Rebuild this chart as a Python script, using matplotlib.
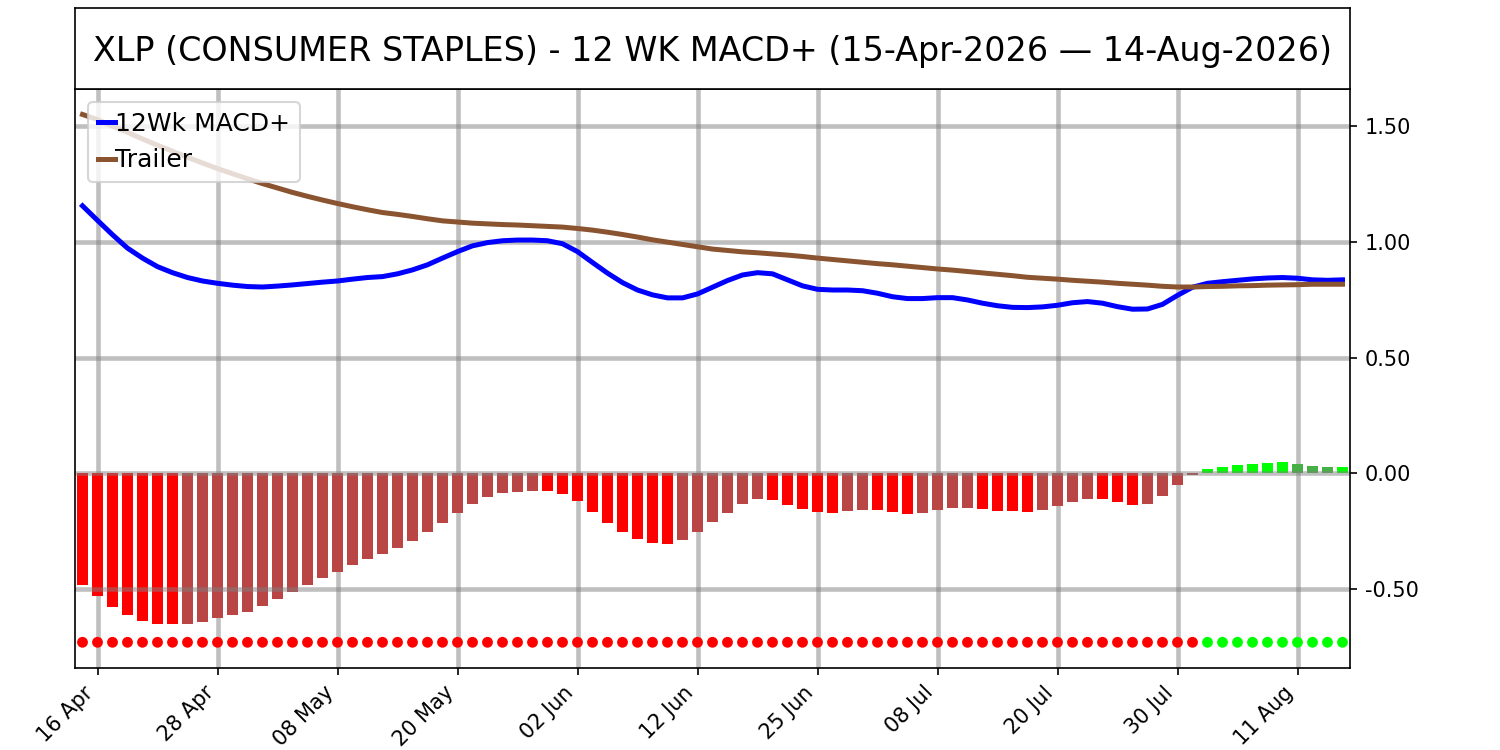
import numpy as np
import pandas as pd
import matplotlib
matplotlib.use("Agg")
import matplotlib.pyplot as plt

# ---------------- data ----------------
start_date = "2026-04-15"
end_date = "2026-08-14"
holidays = ["2026-05-25", "2026-06-19", "2026-07-03"]

macd = [1.157, 1.094, 1.032, 0.974, 0.931, 0.894, 0.868, 0.847, 0.832, 0.822,
        0.814, 0.808, 0.806, 0.810, 0.815, 0.821, 0.827, 0.832, 0.840, 0.847,
        0.851, 0.863, 0.880, 0.902, 0.931, 0.959, 0.984, 0.998, 1.006, 1.009,
        1.009, 1.006, 0.993, 0.959, 0.912, 0.866, 0.825, 0.793, 0.772, 0.759,
        0.759, 0.776, 0.805, 0.834, 0.858, 0.868, 0.863, 0.837, 0.811, 0.796,
        0.793, 0.793, 0.790, 0.779, 0.764, 0.756, 0.756, 0.760, 0.760, 0.750,
        0.736, 0.725, 0.718, 0.717, 0.720, 0.727, 0.738, 0.743, 0.736, 0.721,
        0.710, 0.711, 0.731, 0.770, 0.805, 0.822, 0.829, 0.835, 0.841, 0.845,
        0.847, 0.844, 0.837, 0.835, 0.837]

trailer = [1.552, 1.530, 1.501, 1.475, 1.446, 1.419, 1.393, 1.367, 1.342, 1.318,
           1.296, 1.274, 1.253, 1.234, 1.215, 1.198, 1.182, 1.167, 1.153, 1.140,
           1.128, 1.120, 1.111, 1.101, 1.092, 1.087, 1.082, 1.079, 1.076, 1.074,
           1.071, 1.068, 1.065, 1.059, 1.052, 1.043, 1.033, 1.022, 1.010, 1.000,
           0.990, 0.980, 0.970, 0.964, 0.958, 0.954, 0.949, 0.944, 0.938, 0.931,
           0.925, 0.919, 0.913, 0.907, 0.902, 0.896, 0.890, 0.884, 0.879, 0.873,
           0.867, 0.861, 0.855, 0.848, 0.844, 0.840, 0.835, 0.831, 0.827, 0.822,
           0.818, 0.814, 0.809, 0.806, 0.806, 0.808, 0.809, 0.811, 0.812, 0.814,
           0.815, 0.816, 0.818, 0.818, 0.818]

hist = [-0.483, -0.530, -0.579, -0.614, -0.636, -0.649, -0.653, -0.652, -0.644, -0.627,
        -0.610, -0.597, -0.571, -0.545, -0.513, -0.484, -0.454, -0.426, -0.397, -0.371,
        -0.350, -0.324, -0.293, -0.254, -0.214, -0.170, -0.131, -0.101, -0.084, -0.081,
        -0.077, -0.078, -0.090, -0.120, -0.168, -0.215, -0.254, -0.285, -0.302, -0.306,
        -0.289, -0.254, -0.211, -0.172, -0.133, -0.111, -0.116, -0.137, -0.155, -0.168,
        -0.172, -0.163, -0.158, -0.160, -0.168, -0.176, -0.172, -0.159, -0.150, -0.149,
        -0.155, -0.163, -0.164, -0.168, -0.159, -0.142, -0.124, -0.111, -0.112, -0.124,
        -0.137, -0.133, -0.098, -0.051, -0.008, 0.020, 0.026, 0.035, 0.039, 0.043,
        0.048, 0.042, 0.030, 0.026, 0.027]

signal_level = -0.73
y_ticks = [-0.5, 0.0, 0.5, 1.0, 1.5]
title = "XLP (CONSUMER STAPLES) - 12 WK MACD+ (15-Apr-2026 \u2014 14-Aug-2026)"

# ---------------- derived ----------------
dates = pd.bdate_range(start_date, end_date, freq="C", holidays=holidays)
n = len(dates)
x = np.arange(n)
h = np.array(hist)

RED = "#ff0000"
BROWN = "#b94545"
LIME = "#00ff00"
DKGREEN = "#46b046"

bar_colors = []
for i, v in enumerate(h):
    prev = h[i - 1] if i > 0 else 0.0
    if v < 0:
        bar_colors.append(RED if v <= prev else BROWN)
    else:
        bar_colors.append(LIME if v >= prev else DKGREEN)
dot_colors = [RED if v < 0 else LIME for v in h]

# ---------------- figure ----------------
fig = plt.figure(figsize=(10, 5), dpi=150)
ax = fig.add_axes([0.05, 0.1097, 0.85, 0.771])
tax = fig.add_axes([0.05, 0.8807, 0.85, 0.1083])
tax.set_xticks([])
tax.set_yticks([])
tax.text(0.5, 0.47, title, ha="center", va="center", fontsize=16,
         transform=tax.transAxes)

# vertical grid beneath bars
ax.set_axisbelow(True)
ax.grid(True, axis="x", color="gray", alpha=0.5, lw=2.2)

ax.bar(x, h, width=0.69, color=bar_colors, zorder=1)
# horizontal grid above bars
for yv in y_ticks:
    ax.axhline(yv, color="gray", alpha=0.5, lw=2.2, zorder=1.5)

ax.scatter(x, [signal_level] * n, s=27, c=dot_colors, zorder=3, linewidths=0)
ax.plot(x, macd, color="#0000ff", lw=2.4, label="12Wk MACD+", zorder=4)
ax.plot(x, trailer, color="#8b5430", lw=2.4, label="Trailer", zorder=4)

ax.set_xlim(-0.5, n - 0.5)
ax.set_ylim(-0.84, 1.66)
ax.yaxis.tick_right()
ax.set_yticks(y_ticks)
ax.set_yticklabels([f"{v:.2f}" for v in y_ticks])

tick_idx = list(range(1, n, 8))
ax.set_xticks(tick_idx)
ax.set_xticklabels([dates[i].strftime("%d %b") for i in tick_idx],
                   rotation=45, ha="right")

ax.legend(loc="upper left", fontsize=12, handlelength=0.7,
          handletextpad=0.0, borderaxespad=0.5)

fig.savefig("out.png", dpi=150)
